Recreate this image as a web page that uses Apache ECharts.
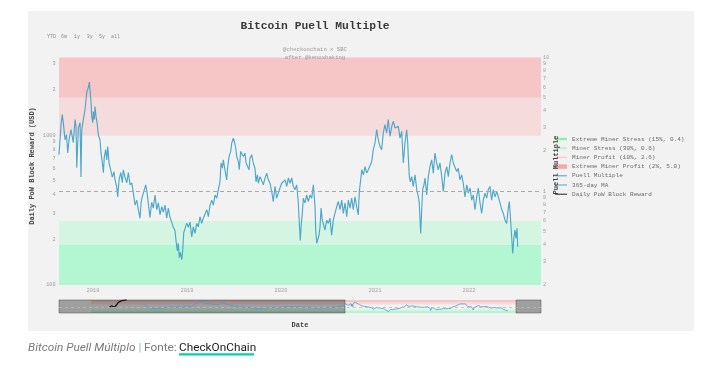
<!DOCTYPE html>
<html>
<head>
<meta charset="utf-8">
<script src="https://cdn.jsdelivr.net/npm/echarts@6/dist/echarts.min.js"></script>
<style>
html,body{margin:0;padding:0;background:#ffffff;}
#chart{width:707px;height:370px;}
</style>
</head>
<body>
<div id="chart"></div>
<script>
// ---------------- DATA ----------------
// Puell Multiple (decimal year, value)
var dates = [
2017.638,2017.649,2017.660,2017.673,2017.686,2017.702,2017.718,2017.731,2017.745,2017.766,2017.790,2017.809,2017.819,2017.827,2017.844,2017.862,2017.872,2017.880,2017.897,2017.915,2017.933,2017.950,2017.961,2017.979,2017.986,2017.997,
2018.003,2018.014,2018.021,2018.032,2018.046,2018.056,2018.074,2018.085,2018.099,2018.110,2018.120,2018.135,2018.146,2018.156,2018.170,2018.188,2018.205,2018.223,2018.234,2018.252,2018.263,2018.277,2018.295,2018.312,2018.322,2018.340,2018.359,2018.376,2018.394,2018.412,2018.429,2018.447,2018.465,2018.482,2018.500,2018.511,2018.524,2018.546,2018.561,2018.574,2018.588,2018.606,2018.624,2018.641,2018.660,2018.678,2018.695,2018.713,2018.731,2018.748,2018.766,2018.784,2018.801,2018.819,2018.837,2018.854,2018.872,2018.883,2018.897,2018.907,2018.918,2018.929,2018.944,2018.954,2018.965,2018.979,2018.997,
2019.014,2019.032,2019.050,2019.067,2019.085,2019.103,2019.120,2019.138,2019.156,2019.173,2019.191,2019.210,2019.227,2019.245,2019.263,2019.280,2019.298,2019.316,2019.333,2019.351,2019.362,2019.376,2019.386,2019.404,2019.422,2019.433,2019.447,2019.465,2019.476,2019.493,2019.503,2019.518,2019.529,2019.546,2019.556,2019.571,2019.588,2019.599,2019.617,2019.628,2019.646,2019.660,2019.670,2019.688,2019.705,2019.723,2019.734,2019.748,2019.759,2019.777,2019.795,2019.812,2019.830,2019.848,2019.865,2019.883,2019.901,2019.918,2019.936,2019.954,2019.971,2019.989,
2020.007,2020.024,2020.043,2020.061,2020.078,2020.096,2020.114,2020.131,2020.149,2020.167,2020.184,2020.195,2020.205,2020.216,2020.227,2020.237,2020.255,2020.273,2020.290,2020.309,2020.327,2020.344,2020.354,2020.362,2020.369,2020.380,2020.390,2020.404,2020.415,2020.426,2020.439,2020.450,2020.468,2020.486,2020.503,2020.521,2020.539,2020.556,2020.574,2020.593,2020.610,2020.628,2020.646,2020.663,2020.681,2020.699,2020.716,2020.734,2020.752,2020.769,2020.787,2020.805,2020.822,2020.833,2020.848,2020.859,2020.876,2020.894,2020.912,2020.929,2020.947,2020.965,2020.982,
2021.000,2021.018,2021.035,2021.053,2021.071,2021.088,2021.106,2021.124,2021.141,2021.160,2021.178,2021.195,2021.213,2021.231,2021.248,2021.266,2021.284,2021.301,2021.319,2021.337,2021.348,2021.354,2021.365,2021.376,2021.390,2021.407,2021.426,2021.444,2021.461,2021.471,2021.486,2021.497,2021.507,2021.521,2021.532,2021.550,2021.567,2021.585,2021.603,2021.620,2021.638,2021.656,2021.673,2021.691,2021.710,2021.727,2021.745,2021.763,2021.780,2021.798,2021.816,2021.833,2021.851,2021.869,2021.886,2021.904,2021.922,2021.939,2021.957,2021.976,2021.993,
2022.011,2022.029,2022.046,2022.064,2022.082,2022.099,2022.117,2022.135,2022.152,2022.170,2022.188,2022.205,2022.223,2022.241,2022.258,2022.277,2022.295,2022.312,2022.330,2022.348,2022.365,2022.383,2022.401,2022.418,2022.429,2022.440,2022.454,2022.465,2022.479,2022.489,2022.500,2022.511,2022.518
];
var puell = [
1.88,2.43,3.15,3.75,3.15,2.43,2.65,1.94,2.43,2.89,2.31,3.44,3.05,1.50,2.99,3.26,1.28,2.89,3.44,4.09,5.48,5.98,6.55,4.61,3.62,3.26,
3.95,3.44,4.30,3.62,3.15,2.65,2.43,1.94,1.64,1.38,1.81,2.05,1.72,2.16,1.64,1.45,1.28,1.40,1.22,1.08,0.91,1.22,1.38,1.16,1.45,1.28,1.16,1.38,1.12,1.16,0.975,0.79,0.86,0.73,0.63,0.82,0.91,1.03,1.12,0.99,0.82,0.64,0.83,0.75,0.94,0.73,0.82,0.67,0.77,0.70,0.79,0.63,0.75,0.64,0.59,0.54,0.51,0.43,0.36,0.41,0.32,0.35,0.31,0.36,0.49,0.53,0.58,
0.54,0.59,0.458,0.544,0.486,0.577,0.544,0.647,0.577,0.63,0.61,0.73,0.647,0.79,0.86,0.79,0.94,0.89,1.03,1.18,1.63,1.49,1.72,1.45,1.22,1.53,1.82,1.99,2.30,2.50,2.37,2.11,1.82,1.67,1.45,1.99,2.05,1.82,1.93,1.63,1.67,1.45,1.77,1.88,1.63,1.49,1.18,1.33,1.15,1.29,1.26,1.12,1.26,1.37,1.22,1.15,1.00,0.84,1.09,0.89,0.97,1.06,
1.15,1.12,1.22,1.09,1.26,1.15,1.26,1.09,1.03,1.12,0.82,0.577,0.43,0.577,0.686,0.89,0.82,0.94,0.84,0.94,0.89,1.12,1.09,0.77,0.515,0.41,0.40,0.47,0.544,0.75,0.61,0.594,0.515,0.61,0.577,0.63,0.47,0.61,0.686,0.77,0.84,0.73,0.86,0.686,0.82,0.647,0.86,0.75,0.89,0.73,0.91,0.77,0.667,1.00,1.22,1.45,1.33,1.53,1.37,1.45,1.49,1.67,2.05,
2.30,2.89,2.43,2.17,2.05,2.73,3.15,2.73,3.44,2.58,3.06,3.34,2.98,2.89,3.06,2.50,2.81,1.63,2.30,2.89,2.30,1.82,1.29,1.18,1.29,1.09,1.33,1.03,0.91,0.82,0.486,0.73,1.03,1.12,1.26,0.94,1.29,1.53,1.72,1.37,1.93,1.63,1.45,1.63,1.29,1.00,1.37,1.53,1.29,1.63,1.88,1.63,1.58,1.41,1.49,1.22,1.33,1.15,0.91,1.12,0.97,
1.06,0.86,0.94,0.73,0.91,1.06,0.82,0.686,0.86,0.97,0.89,1.03,1.09,0.86,1.03,0.91,1.00,0.97,0.82,0.73,0.686,0.61,0.577,0.75,0.84,0.647,0.458,0.344,0.458,0.515,0.445,0.53,0.386
];
// Earlier Puell history, only visible in the range slider
var earlyDates = [2011.59,2011.74,2011.94,2012.14,2012.34,2012.54,2012.74,2012.89,2013.04,2013.14,2013.29,2013.44,2013.64,2013.84,2013.94,2014.09,2014.24,2014.44,2014.64,2014.84,2015.04,2015.24,2015.44,2015.64,2015.84,2016.04,2016.29,2016.69,2017.09,2017.29,2017.59];
var earlyPuell = [3.0,1.1,0.67,0.9,1.1,1.3,1.1,1.8,1.3,3.0,6.8,3.6,3.0,2.5,5.0,3.0,1.8,1.3,1.1,1.0,0.67,0.9,1.1,0.9,1.3,1.3,1.3,0.9,0.9,1.1,1.8];
// Daily PoW Block Reward (USD), only visible in the range slider
var rewardDates = [2010.57,2010.64,2010.72,2010.79,2010.84,2010.94,2011.09];
var rewardUsd = [470,710,470,930,1780,2750,3400];

// Bands (Puell Multiple thresholds)
var bandNames = ['Extreme Miner Stress (15%, 0.4)','Miner Stress (30%, 0.6)','Miner Profit (10%, 2.6)','Extreme Miner Profit (2%, 5.0)'];
var bandLow = [0.2, 0.4, 2.6, 5.0];
var bandHigh = [0.4, 0.6, 5.0, 10];
var bandStart = 2010.02;

// Axis ticks
var yearTicks = [2018, 2019, 2020, 2021, 2022];
var rewardTicks = [100,200,300,400,500,600,700,800,900,1000,2000,3000];
var puellTicks = [0.2,0.3,0.4,0.5,0.6,0.7,0.8,0.9,1,2,3,4,5,6,7,8,9,10];

// Ranges
var viewStart = 2017.638, viewEnd = 2022.766;
var fullStart = 2009.06, fullEnd = 2023.516;

// ---------------- STYLE ----------------
var MONO = "'Liberation Mono','DejaVu Sans Mono',monospace";
var bandFill = ['#b3f6d2','#d5f5e3','#f6dbdd','#f6c6c7'];
var bandIcon = ['#8fecb2','#c2f2d6','#f5cdd0','#f3a9ac'];
var teal = '#44a3c6';

function logLabel(v){
  var p = Math.pow(10, Math.floor(Math.log10(v) + 1e-9));
  var r = v / p;
  if (Math.abs(r - 1) < 1e-6) return String(Math.round(v * 1000) / 1000);
  return String(Math.round(r));
}

var pairs = function(xs, ys){ return xs.map(function(x,i){ return [x, ys[i]]; }); };
var mainData = pairs(dates, puell);
var miniData = pairs(earlyDates, earlyPuell).concat(mainData);

var series = [];
bandNames.forEach(function(n, i){
  series.push({
    name: n, type: 'line', xAxisIndex: 0, yAxisIndex: 1, data: [], z: 1,
    color: bandIcon[i],
    markArea: { silent: true, itemStyle: { color: bandFill[i] },
      data: [[{ yAxis: bandLow[i] }, { yAxis: bandHigh[i] }]] }
  });
});
series.push({
  name: 'Puell Multiple', type: 'line', xAxisIndex: 0, yAxisIndex: 1,
  data: mainData, showSymbol: false, z: 4, color: teal,
  lineStyle: { width: 1.15, color: teal, opacity: 0.95 },
  markLine: { silent: true, symbol: 'none', label: { show: false },
    lineStyle: { color: '#a9a9a9', type: [4, 3], width: 1 },
    data: [{ yAxis: 1 }] }
});
series.push({ name: '365-day MA', type: 'line', xAxisIndex: 0, yAxisIndex: 1, data: [], color: '#4aa6c9' });
series.push({ name: 'Daily PoW Block Reward', type: 'line', xAxisIndex: 0, yAxisIndex: 0, data: [], color: '#222222' });

// mini (range slider)
series.push({
  name: 'mini-bands', type: 'line', xAxisIndex: 1, yAxisIndex: 2, data: [], z: 1,
  markArea: { silent: true,
    data: bandNames.map(function(n, i){
      return [{ xAxis: bandStart, yAxis: bandLow[i], itemStyle: { color: bandFill[i] } },
              { xAxis: viewEnd, yAxis: bandHigh[i] }];
    }) }
});
series.push({
  name: 'mini-puell', type: 'line', xAxisIndex: 1, yAxisIndex: 2, data: miniData,
  showSymbol: false, z: 3, lineStyle: { width: 0.8, color: teal }, color: teal,
  markLine: { silent: true, symbol: 'none', label: { show: false },
    lineStyle: { color: '#bbbbbb', type: [3, 3], width: 0.8 }, data: [{ yAxis: 1 }] }
});
series.push({
  name: 'mini-reward', type: 'line', xAxisIndex: 1, yAxisIndex: 3, data: pairs(rewardDates, rewardUsd),
  showSymbol: false, z: 3, lineStyle: { width: 1.3, color: '#111111' }, color: '#111111'
});
series.push({
  name: 'mini-mask', type: 'line', xAxisIndex: 1, yAxisIndex: 2, data: [], z: 6,
  markArea: { silent: true,
    itemStyle: { color: 'rgba(0,0,0,0.34)', borderColor: 'rgba(70,70,70,0.6)', borderWidth: 0.8 },
    data: [[{ xAxis: fullStart }, { xAxis: viewStart }], [{ xAxis: viewEnd }, { xAxis: fullEnd }]] }
});

var lineIcon = 'path://M0,0h24v2h-24z';
var option = {
  animation: false,
  backgroundColor: '#ffffff',
  grid: [
    { left: 59, top: 57.5, width: 482, height: 227.5 },
    { left: 59, top: 300, width: 482, height: 13 }
  ],
  xAxis: [
    { type: 'value', gridIndex: 0, min: viewStart, max: viewEnd,
      axisLine: { show: false }, axisTick: { show: false }, splitLine: { show: false },
      axisLabel: { customValues: yearTicks, formatter: function(v){ return String(Math.round(v)); },
        fontSize: 5.4, color: '#a3a3a3', margin: 3, fontFamily: MONO } },
    { type: 'value', gridIndex: 1, min: fullStart, max: fullEnd, show: false }
  ],
  yAxis: [
    { type: 'log', gridIndex: 0, min: 100, max: 3300, position: 'left',
      axisLine: { show: false }, axisTick: { show: false }, splitLine: { show: false },
      axisLabel: { customValues: rewardTicks, formatter: logLabel, fontSize: 5.2, color: '#9d9d9d', margin: 3.5, fontFamily: MONO } },
    { type: 'log', gridIndex: 0, min: 0.2, max: 10, position: 'right',
      axisLine: { show: false }, axisTick: { show: false }, splitLine: { show: false },
      axisLabel: { customValues: puellTicks, formatter: logLabel, fontSize: 5.2, color: '#9d9d9d', margin: 2, fontFamily: MONO } },
    { type: 'log', gridIndex: 1, min: 0.2, max: 10, show: false },
    { type: 'log', gridIndex: 1, min: 100, max: 3300, show: false }
  ],
  legend: {
    left: 555, top: 135.5, orient: 'vertical', selectedMode: false, padding: 0,
    itemWidth: 12, itemHeight: 7, itemGap: 2.2,
    textStyle: { fontFamily: MONO, fontSize: 6.05, color: '#6a6a6a', lineHeight: 7 },
    data: [
      { name: bandNames[0], icon: 'path://M0,0h24v5h-24z' },
      { name: bandNames[1], icon: 'path://M0,0h24v5h-24z' },
      { name: bandNames[2], icon: 'path://M0,0h24v3h-24z' },
      { name: bandNames[3], icon: 'path://M0,0h24v9h-24z' },
      { name: 'Puell Multiple', icon: lineIcon },
      { name: '365-day MA', icon: lineIcon },
      { name: 'Daily PoW Block Reward', icon: lineIcon }
    ]
  },
  graphic: [
    { type: 'rect', z: -10, silent: true, shape: { x: 28, y: 11, width: 666, height: 320 }, style: { fill: '#f2f2f2' } },
    { type: 'text', x: 315, y: 26, style: { text: 'Bitcoin Puell Multiple', font: "bold 11.3px 'Liberation Mono', monospace", fill: '#3a3a3a', textAlign: 'center', textVerticalAlign: 'middle' } },
    { type: 'text', x: 315, y: 50, style: { text: '@checkonchain x SBC', font: "5.6px 'Liberation Mono', monospace", fill: '#9a9a9a', textAlign: 'center', textVerticalAlign: 'middle' } },
    { type: 'text', x: 315, y: 57.5, z: 10, style: { text: 'after @kenoshaking', font: "5.6px 'Liberation Mono', monospace", fill: '#9a9a9a', textAlign: 'center', textVerticalAlign: 'middle' } },
    { type: 'text', x: 47, y: 37, style: { text: 'YTD', font: "5px 'Liberation Mono', monospace", fill: '#8a8a8a', textVerticalAlign: 'middle' } },
    { type: 'text', x: 61, y: 37, style: { text: '6m', font: "5px 'Liberation Mono', monospace", fill: '#8a8a8a', textVerticalAlign: 'middle' } },
    { type: 'text', x: 74, y: 37, style: { text: '1y', font: "5px 'Liberation Mono', monospace", fill: '#8a8a8a', textVerticalAlign: 'middle' } },
    { type: 'text', x: 86.7, y: 37, style: { text: '3y', font: "5px 'Liberation Mono', monospace", fill: '#8a8a8a', textVerticalAlign: 'middle' } },
    { type: 'text', x: 99, y: 37, style: { text: '5y', font: "5px 'Liberation Mono', monospace", fill: '#8a8a8a', textVerticalAlign: 'middle' } },
    { type: 'text', x: 111, y: 37, style: { text: 'all', font: "5px 'Liberation Mono', monospace", fill: '#8a8a8a', textVerticalAlign: 'middle' } },
    { type: 'text', x: 32, y: 166, rotation: Math.PI / 2, style: { text: 'Daily PoW Block Reward (USD)', font: "bold 7px 'Liberation Mono', monospace", fill: '#444444', textAlign: 'center', textVerticalAlign: 'middle' } },
    { type: 'text', x: 556.5, y: 165, rotation: Math.PI / 2, z: 20, style: { text: 'Puell Multiple', font: "bold 7px 'Liberation Mono', monospace", fill: '#444444', textAlign: 'center', textVerticalAlign: 'middle' } },
    { type: 'text', x: 300, y: 325, style: { text: 'Date', font: "bold 7px 'Liberation Mono', monospace", fill: '#444444', textAlign: 'center', textVerticalAlign: 'middle' } },
    { type: 'text', x: 28, y: 348.5, style: { text: 'Bitcoin Puell Múltiplo', font: "italic 11.8px Roboto, 'Noto Sans', sans-serif", fill: '#7a7a7a', textVerticalAlign: 'middle' } },
    { type: 'text', x: 138.5, y: 348.5, style: { text: '|', font: "11.8px Roboto, 'Noto Sans', sans-serif", fill: '#9cb3c9', textVerticalAlign: 'middle' } },
    { type: 'text', x: 144, y: 348.5, style: { text: 'Fonte:', font: "11.8px Roboto, 'Noto Sans', sans-serif", fill: '#7a7a7a', textVerticalAlign: 'middle' } },
    { type: 'text', x: 179, y: 348.5, style: { text: 'CheckOnChain', font: "11.8px Roboto, 'Noto Sans', sans-serif", fill: '#1e1e1e', textVerticalAlign: 'middle' } },
    { type: 'rect', silent: true, shape: { x: 179, y: 353.3, width: 75, height: 2.2 }, style: { fill: '#00d39c' } }
  ],
  series: series
};

var chart = echarts.init(document.getElementById('chart'), null, { renderer: 'canvas' });
chart.setOption(option);
</script>
</body>
</html>
